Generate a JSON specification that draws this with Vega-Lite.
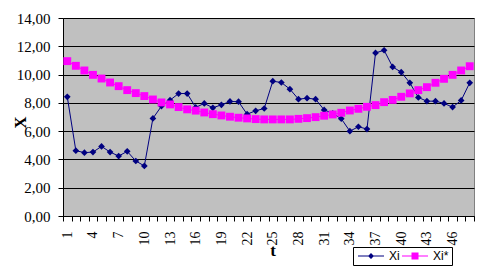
{
  "$schema": "https://vega.github.io/schema/vega-lite/v6.json",
  "width": 411,
  "height": 198,
  "autosize": {"type": "none"},
  "padding": {"left": 63, "top": 18, "right": 11, "bottom": 51},
  "background": "#ffffff",
  "config": {
    "font": "Liberation Serif",
    "view": {"stroke": "#808080", "fill": "#C0C0C0"}
  },
  "data": {
    "values": [
      {"t": 1, "series": "Xi", "value": 8.43}, {"t": 2, "series": "Xi", "value": 4.62}, {"t": 3, "series": "Xi", "value": 4.48},
      {"t": 4, "series": "Xi", "value": 4.52}, {"t": 5, "series": "Xi", "value": 4.92}, {"t": 6, "series": "Xi", "value": 4.52},
      {"t": 7, "series": "Xi", "value": 4.24}, {"t": 8, "series": "Xi", "value": 4.57}, {"t": 9, "series": "Xi", "value": 3.89},
      {"t": 10, "series": "Xi", "value": 3.54}, {"t": 11, "series": "Xi", "value": 6.9}, {"t": 12, "series": "Xi", "value": 7.77},
      {"t": 13, "series": "Xi", "value": 8.19}, {"t": 14, "series": "Xi", "value": 8.66}, {"t": 15, "series": "Xi", "value": 8.66},
      {"t": 16, "series": "Xi", "value": 7.68}, {"t": 17, "series": "Xi", "value": 7.96}, {"t": 18, "series": "Xi", "value": 7.65},
      {"t": 19, "series": "Xi", "value": 7.86}, {"t": 20, "series": "Xi", "value": 8.1}, {"t": 21, "series": "Xi", "value": 8.08},
      {"t": 22, "series": "Xi", "value": 7.2}, {"t": 23, "series": "Xi", "value": 7.44}, {"t": 24, "series": "Xi", "value": 7.6},
      {"t": 25, "series": "Xi", "value": 9.53}, {"t": 26, "series": "Xi", "value": 9.44}, {"t": 27, "series": "Xi", "value": 8.97},
      {"t": 28, "series": "Xi", "value": 8.26}, {"t": 29, "series": "Xi", "value": 8.33}, {"t": 30, "series": "Xi", "value": 8.26},
      {"t": 31, "series": "Xi", "value": 7.5}, {"t": 32, "series": "Xi", "value": 7.25}, {"t": 33, "series": "Xi", "value": 6.88},
      {"t": 34, "series": "Xi", "value": 6.0}, {"t": 35, "series": "Xi", "value": 6.31}, {"t": 36, "series": "Xi", "value": 6.15},
      {"t": 37, "series": "Xi", "value": 11.53}, {"t": 38, "series": "Xi", "value": 11.72}, {"t": 39, "series": "Xi", "value": 10.54},
      {"t": 40, "series": "Xi", "value": 10.17}, {"t": 41, "series": "Xi", "value": 9.42}, {"t": 42, "series": "Xi", "value": 8.38},
      {"t": 43, "series": "Xi", "value": 8.12}, {"t": 44, "series": "Xi", "value": 8.12}, {"t": 45, "series": "Xi", "value": 7.96},
      {"t": 46, "series": "Xi", "value": 7.7}, {"t": 47, "series": "Xi", "value": 8.17}, {"t": 48, "series": "Xi", "value": 9.42},
      {"t": 1, "series": "Xi*", "value": 10.95}, {"t": 2, "series": "Xi*", "value": 10.62}, {"t": 3, "series": "Xi*", "value": 10.29},
      {"t": 4, "series": "Xi*", "value": 9.98}, {"t": 5, "series": "Xi*", "value": 9.72}, {"t": 6, "series": "Xi*", "value": 9.44},
      {"t": 7, "series": "Xi*", "value": 9.18}, {"t": 8, "series": "Xi*", "value": 8.9}, {"t": 9, "series": "Xi*", "value": 8.69},
      {"t": 10, "series": "Xi*", "value": 8.48}, {"t": 11, "series": "Xi*", "value": 8.24}, {"t": 12, "series": "Xi*", "value": 8.03},
      {"t": 13, "series": "Xi*", "value": 7.89}, {"t": 14, "series": "Xi*", "value": 7.7}, {"t": 15, "series": "Xi*", "value": 7.54},
      {"t": 16, "series": "Xi*", "value": 7.45}, {"t": 17, "series": "Xi*", "value": 7.32}, {"t": 18, "series": "Xi*", "value": 7.2},
      {"t": 19, "series": "Xi*", "value": 7.11}, {"t": 20, "series": "Xi*", "value": 7.02}, {"t": 21, "series": "Xi*", "value": 6.95},
      {"t": 22, "series": "Xi*", "value": 6.9}, {"t": 23, "series": "Xi*", "value": 6.85}, {"t": 24, "series": "Xi*", "value": 6.83},
      {"t": 25, "series": "Xi*", "value": 6.83}, {"t": 26, "series": "Xi*", "value": 6.83}, {"t": 27, "series": "Xi*", "value": 6.83},
      {"t": 28, "series": "Xi*", "value": 6.87}, {"t": 29, "series": "Xi*", "value": 6.92}, {"t": 30, "series": "Xi*", "value": 6.99},
      {"t": 31, "series": "Xi*", "value": 7.09}, {"t": 32, "series": "Xi*", "value": 7.18}, {"t": 33, "series": "Xi*", "value": 7.3},
      {"t": 34, "series": "Xi*", "value": 7.46}, {"t": 35, "series": "Xi*", "value": 7.58}, {"t": 36, "series": "Xi*", "value": 7.72},
      {"t": 37, "series": "Xi*", "value": 7.84}, {"t": 38, "series": "Xi*", "value": 8.05}, {"t": 39, "series": "Xi*", "value": 8.21},
      {"t": 40, "series": "Xi*", "value": 8.43}, {"t": 41, "series": "Xi*", "value": 8.67}, {"t": 42, "series": "Xi*", "value": 8.9},
      {"t": 43, "series": "Xi*", "value": 9.11}, {"t": 44, "series": "Xi*", "value": 9.42}, {"t": 45, "series": "Xi*", "value": 9.7},
      {"t": 46, "series": "Xi*", "value": 9.98}, {"t": 47, "series": "Xi*", "value": 10.29}, {"t": 48, "series": "Xi*", "value": 10.59}
    ]
  },
  "encoding": {
    "x": {
      "field": "t",
      "type": "ordinal",
      "scale": {"paddingInner": 0, "paddingOuter": 0},
      "axis": {
        "title": "t",
        "titleFont": "Liberation Serif",
        "titleFontSize": 17,
        "titleFontWeight": "bold",
        "titleColor": "#000",
        "titleX": 209.5,
        "titleY": 39,
        "titleAlign": "center",
        "titleBaseline": "alphabetic",
        "labelAngle": 270,
        "labelExpr": "(datum.value - 1) % 3 == 0 ? datum.label : ''",
        "labelOverlap": false,
        "labelFontSize": 14,
        "labelColor": "#000",
        "labelPadding": 10,
        "tickBand": "extent",
        "tickColor": "#000",
        "tickSize": 5,
        "domainColor": "#000",
        "grid": false
      }
    },
    "y": {
      "field": "value",
      "type": "quantitative",
      "scale": {"domain": [0, 14], "nice": false},
      "axis": {
        "title": "X",
        "titleFont": "Liberation Serif",
        "titleFontSize": 17,
        "titleFontWeight": "bold",
        "titleColor": "#000",
        "titleX": -43,
        "titleY": 104,
        "titleAngle": 270,
        "titleAlign": "center",
        "titleBaseline": "middle",
        "values": [0, 2, 4, 6, 8, 10, 12, 14],
        "labelExpr": "replace(format(datum.value, '.2f'), '.', ',')",
        "labelFontSize": 15,
        "labelColor": "#000",
        "labelPadding": 8,
        "tickSize": 5,
        "tickColor": "#000",
        "domainColor": "#000",
        "grid": true,
        "gridColor": "#000",
        "gridOpacity": 1
      }
    }
  },
  "layer": [
    {
      "mark": {"type": "line", "strokeWidth": 1},
      "encoding": {
        "color": {
          "field": "series",
          "type": "nominal",
          "scale": {"domain": ["Xi", "Xi*"], "range": ["#000080", "#FF00FF"]},
          "legend": {
            "orient": "none",
            "legendX": 290,
            "legendY": 229,
            "direction": "horizontal",
            "title": null,
            "symbolType": {"expr": "datum.value == 'Xi' ? 'M-0.8,-0.1H4.4V0.1H-0.8Z M1.8,-0.6L2.4,0L1.8,0.6L1.2,0Z' : 'M-0.8,-0.1H4.4V0.1H-0.8Z M1.1,-0.7H2.5V0.7H1.1Z'"},
            "symbolFillColor": {"expr": "datum.value == 'Xi' ? '#000080' : '#FF00FF'"},
            "symbolSize": 100,
            "symbolOpacity": 1,
            "symbolStrokeWidth": 0,
            "labelOffset": 21,
            "columnPadding": -2,
            "padding": 3,
            "strokeColor": "#000",
            "fillColor": "#fff",
            "labelFont": "Liberation Sans",
            "labelFontSize": 12,
            "labelColor": "#000"
          }
        }
      }
    },
    {
      "transform": [{"filter": "datum.series == 'Xi'"}],
      "mark": {"type": "point", "filled": true, "opacity": 1, "shape": "diamond", "size": 45, "color": "#000080"}
    },
    {
      "transform": [{"filter": "datum.series == 'Xi*'"}],
      "mark": {"type": "point", "filled": true, "opacity": 1, "shape": "square", "size": 62, "color": "#FF00FF"}
    }
  ]
}
